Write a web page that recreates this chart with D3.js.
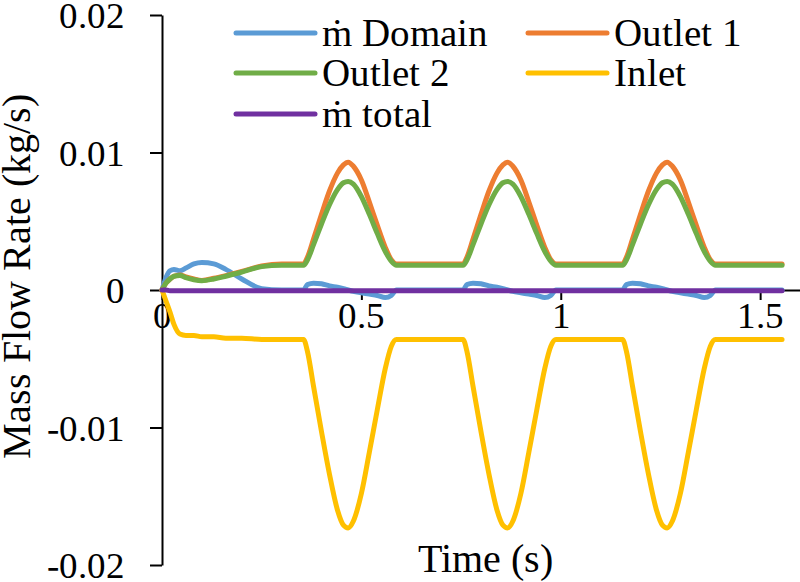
<!DOCTYPE html>
<html>
<head>
<meta charset="utf-8">
<script src="https://cdn.jsdelivr.net/npm/d3@7/dist/d3.min.js"></script>
<style>
  @font-face { font-family: "ChartSerif"; src: local("Liberation Serif"), local("LiberationSerif"), local("Liberation Serif Regular"), local("LiberationSerif-Regular"); }
  html, body { margin: 0; padding: 0; background: #fff; }
  svg { display: block; }
  svg text { font-family: "ChartSerif", "Liberation Serif", "Times New Roman", Tinos, serif; }
</style>
</head>
<body>
<svg id="chart" width="800" height="582"></svg>
<script>
// ---- data ----
const time = [0, 0.01, 0.02, 0.03, 0.045, 0.06, 0.08, 0.1, 0.13, 0.16, 0.2, 0.25, 0.3, 0.355,
  0.365, 0.38, 0.4, 0.42, 0.44, 0.455, 0.467, 0.48, 0.5, 0.52, 0.54, 0.56, 0.575, 0.588, 0.62, 0.66, 0.7, 0.755,
  0.765, 0.78, 0.8, 0.82, 0.84, 0.855, 0.867, 0.88, 0.9, 0.92, 0.94, 0.96, 0.975, 0.988, 1.02, 1.06, 1.1, 1.155,
  1.165, 1.18, 1.2, 1.22, 1.24, 1.255, 1.267, 1.28, 1.3, 1.32, 1.34, 1.36, 1.375, 1.388, 1.42, 1.46, 1.5, 1.555];

const mDomain = [0, 0.0009, 0.0014, 0.0015, 0.0014, 0.0016, 0.0019, 0.002, 0.0019, 0.0015, 0.0008, 0.0001, 0, 0,
  0.0004, 0.0005, 0.00045, 0.0003, 0.0002, 0.0001, 0, -0.0001, -0.0002, -0.0003, -0.0004, -0.00055, -0.0004, 0, 0, 0, 0, 0,
  0.0004, 0.0005, 0.00045, 0.0003, 0.0002, 0.0001, 0, -0.0001, -0.0002, -0.0003, -0.0004, -0.00055, -0.0004, 0, 0, 0, 0, 0,
  0.0004, 0.0005, 0.00045, 0.0003, 0.0002, 0.0001, 0, -0.0001, -0.0002, -0.0003, -0.0004, -0.00055, -0.0004, 0, 0, 0, 0, 0];

const outlet1 = [0, 0.0005, 0.0008, 0.001, 0.0011, 0.00095, 0.0008, 0.0007, 0.00085, 0.00105, 0.00135, 0.00175, 0.0019, 0.0019,
  0.0024, 0.0037, 0.0055, 0.0072, 0.0085, 0.0091, 0.0093, 0.009, 0.008, 0.0064, 0.0047, 0.0031, 0.0022, 0.0019, 0.0019, 0.0019, 0.0019, 0.0019,
  0.0024, 0.0037, 0.0055, 0.0072, 0.0085, 0.0091, 0.0093, 0.009, 0.008, 0.0064, 0.0047, 0.0031, 0.0022, 0.0019, 0.0019, 0.0019, 0.0019, 0.0019,
  0.0024, 0.0037, 0.0055, 0.0072, 0.0085, 0.0091, 0.0093, 0.009, 0.008, 0.0064, 0.0047, 0.0031, 0.0022, 0.0019, 0.0019, 0.0019, 0.0019, 0.0019];

const outlet2 = [0, 0.0005, 0.0008, 0.001, 0.00105, 0.0009, 0.00075, 0.00068, 0.0008, 0.001, 0.0013, 0.0017, 0.0018, 0.0018,
  0.0022, 0.0033, 0.0048, 0.0062, 0.0073, 0.0078, 0.0079, 0.0077, 0.0068, 0.0055, 0.0041, 0.0028, 0.0021, 0.0018, 0.0018, 0.0018, 0.0018, 0.0018,
  0.0022, 0.0033, 0.0048, 0.0062, 0.0073, 0.0078, 0.0079, 0.0077, 0.0068, 0.0055, 0.0041, 0.0028, 0.0021, 0.0018, 0.0018, 0.0018, 0.0018, 0.0018,
  0.0022, 0.0033, 0.0048, 0.0062, 0.0073, 0.0078, 0.0079, 0.0077, 0.0068, 0.0055, 0.0041, 0.0028, 0.0021, 0.0018, 0.0018, 0.0018, 0.0018, 0.0018];

const inlet = [0, -0.0008, -0.0016, -0.0025, -0.0032, -0.0033, -0.0033, -0.0034, -0.0034, -0.0035, -0.0035, -0.0036, -0.0036, -0.0036,
  -0.0045, -0.007, -0.0103, -0.0134, -0.016, -0.0171, -0.0173, -0.0168, -0.0148, -0.0118, -0.0087, -0.0057, -0.0041, -0.0036, -0.0036, -0.0036, -0.0036, -0.0036,
  -0.0045, -0.007, -0.0103, -0.0134, -0.016, -0.0171, -0.0173, -0.0168, -0.0148, -0.0118, -0.0087, -0.0057, -0.0041, -0.0036, -0.0036, -0.0036, -0.0036, -0.0036,
  -0.0045, -0.007, -0.0103, -0.0134, -0.016, -0.0171, -0.0173, -0.0168, -0.0148, -0.0118, -0.0087, -0.0057, -0.0041, -0.0036, -0.0036, -0.0036, -0.0036, -0.0036];

const mTotal = [0, 0, -0.00005, -0.00005, -0.00005, -0.00005, -0.00005, -0.00005, -0.00005, -0.00005, -0.00005, -0.00005, -0.00005, -0.00005,
  -0.00005, -0.00005, -0.00005, -0.00005, -0.00005, -0.00005, -0.00005, -0.00005, -0.00005, -0.00005, -0.00005, -0.00005, -0.00005, -0.00005, -0.00005, -0.00005, -0.00005, -0.00005,
  -0.00005, -0.00005, -0.00005, -0.00005, -0.00005, -0.00005, -0.00005, -0.00005, -0.00005, -0.00005, -0.00005, -0.00005, -0.00005, -0.00005, -0.00005, -0.00005, -0.00005, -0.00005,
  -0.00005, -0.00005, -0.00005, -0.00005, -0.00005, -0.00005, -0.00005, -0.00005, -0.00005, -0.00005, -0.00005, -0.00005, -0.00005, -0.00005, -0.00005, -0.00005, -0.00005, -0.00005];

const seriesNames = ["ṁ Domain", "Outlet 1", "Outlet 2", "Inlet", "ṁ total"];
const seriesValues = [mDomain, outlet1, outlet2, inlet, mTotal];
const seriesColors = ["#5B9BD5", "#ED7D31", "#70AD47", "#FFC000", "#7030A0"];

const xTicks = [0, 0.5, 1, 1.5];
const xTickLabels = ["0", "0.5", "1", "1.5"];
const yTicks = [-0.02, -0.01, 0, 0.01, 0.02];
const yTickLabels = ["-0.02", "-0.01", "0", "0.01", "0.02"];

const FONT = '"ChartSerif", "Liberation Serif", "Times New Roman", Tinos, serif';

function draw() {
  const svg = d3.select("#chart");
  svg.selectAll("*").remove();
  const x = d3.scaleLinear().domain([0, 1.6]).range([162, 800]);
  const y = d3.scaleLinear().domain([-0.02, 0.02]).range([565, 15]);

  // y axis
  const yAxis = d3.axisLeft(y).tickValues(yTicks).tickFormat((d, i) => yTickLabels[i]).tickSize(12).tickSizeOuter(0).tickPadding(25);
  const gy = svg.append("g").attr("transform", `translate(${x(0)},0)`).call(yAxis);
  gy.attr("font-family", null).attr("font-size", null);
  gy.select(".domain").attr("stroke", "#000").attr("stroke-width", 2);
  gy.selectAll(".tick line").attr("stroke", "#000").attr("stroke-width", 2);
  gy.selectAll(".tick text").style("font-family", FONT).style("font-size", "37px").attr("fill", "#000").attr("dy", "0.34em");

  // x axis
  const xAxis = d3.axisBottom(x).tickValues(xTicks).tickFormat((d, i) => xTickLabels[i]).tickSize(10).tickSizeOuter(0).tickPadding(2);
  const gx = svg.append("g").attr("transform", `translate(0,${y(0)})`).call(xAxis);
  gx.attr("font-family", null).attr("font-size", null);
  gx.select(".domain").attr("stroke", "#000").attr("stroke-width", 2);
  gx.selectAll(".tick line").attr("stroke", "#000").attr("stroke-width", 2);
  gx.selectAll(".tick text").style("font-family", FONT).style("font-size", "37px").attr("fill", "#000").attr("dy", "0.71em");

  // lines
  const line = d3.line().x((d, i) => x(time[i])).y(d => y(d)).curve(d3.curveMonotoneX);
  seriesValues.forEach((vals, k) => {
    svg.append("path")
      .datum(vals)
      .attr("d", line)
      .attr("fill", "none")
      .attr("stroke", seriesColors[k])
      .attr("stroke-width", 5)
      .attr("stroke-linejoin", "round")
      .attr("stroke-linecap", "round");
  });

  // axis titles
  svg.append("text").attr("x", 485).attr("y", 572).attr("text-anchor", "middle")
    .style("font-family", FONT).style("font-size", "40px").text("Time (s)");
  svg.append("text").attr("transform", "translate(30,276) rotate(-90)").attr("text-anchor", "middle")
    .style("font-family", FONT).style("font-size", "40px").text("Mass Flow Rate (kg/s)");

  // legend
  const legPos = [[236, 33], [528, 33], [236, 73], [528, 73], [236, 114]];
  seriesNames.forEach((name, k) => {
    const [lx, ly] = legPos[k];
    svg.append("line").attr("x1", lx).attr("x2", lx + 79).attr("y1", ly).attr("y2", ly)
      .attr("stroke", seriesColors[k]).attr("stroke-width", 5).attr("stroke-linecap", "round");
    svg.append("text").attr("x", lx + 86).attr("y", ly + 13)
      .style("font-family", FONT).style("font-size", "39px").text(name);
  });
}

draw();
if (document.fonts && document.fonts.load) {
  Promise.all([
    document.fonts.load('40px "ChartSerif"', "Time ṁ 0.02"),
    document.fonts.load('40px "Liberation Serif"', "Time ṁ 0.02")
  ]).then(draw, draw);
  document.fonts.ready.then(draw);
}
</script>
</body>
</html>
